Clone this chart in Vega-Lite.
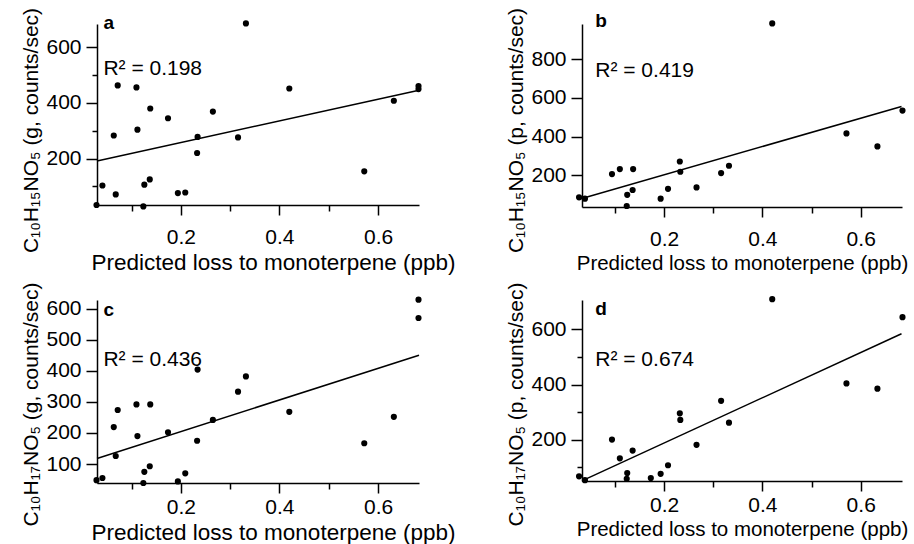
{
  "$schema": "https://vega.github.io/schema/vega-lite/v6.json",
  "padding": {"left": 20, "top": 7, "right": 0, "bottom": 0},
  "columns": 2,
  "spacing": {"row": 8, "column": 50},
  "datasets": {
    "pts": [
      {"p":"a","x":0.029,"y":33},{"p":"a","x":0.041,"y":103},{"p":"a","x":0.068,"y":71},{"p":"a","x":0.064,"y":283},
      {"p":"a","x":0.072,"y":463},{"p":"a","x":0.110,"y":456},{"p":"a","x":0.112,"y":304},{"p":"a","x":0.126,"y":106},
      {"p":"a","x":0.124,"y":28},{"p":"a","x":0.137,"y":125},{"p":"a","x":0.138,"y":380},{"p":"a","x":0.174,"y":345},
      {"p":"a","x":0.194,"y":76},{"p":"a","x":0.209,"y":78},{"p":"a","x":0.234,"y":278},{"p":"a","x":0.233,"y":220},
      {"p":"a","x":0.265,"y":369},{"p":"a","x":0.316,"y":276},{"p":"a","x":0.332,"y":686},{"p":"a","x":0.420,"y":452},
      {"p":"a","x":0.572,"y":154},{"p":"a","x":0.632,"y":408},{"p":"a","x":0.682,"y":461},{"p":"a","x":0.682,"y":450},
      {"p":"b","x":0.027,"y":87},{"p":"b","x":0.039,"y":80},{"p":"b","x":0.094,"y":207},{"p":"b","x":0.110,"y":233},
      {"p":"b","x":0.125,"y":100},{"p":"b","x":0.124,"y":42},{"p":"b","x":0.136,"y":125},{"p":"b","x":0.137,"y":233},
      {"p":"b","x":0.193,"y":80},{"p":"b","x":0.208,"y":131},{"p":"b","x":0.232,"y":272},{"p":"b","x":0.233,"y":219},
      {"p":"b","x":0.266,"y":138},{"p":"b","x":0.316,"y":212},{"p":"b","x":0.332,"y":250},{"p":"b","x":0.420,"y":985},
      {"p":"b","x":0.571,"y":417},{"p":"b","x":0.634,"y":350},{"p":"b","x":0.685,"y":535},
      {"p":"c","x":0.029,"y":48},{"p":"c","x":0.041,"y":55},{"p":"c","x":0.064,"y":219},{"p":"c","x":0.068,"y":126},
      {"p":"c","x":0.072,"y":274},{"p":"c","x":0.110,"y":292},{"p":"c","x":0.112,"y":190},{"p":"c","x":0.126,"y":75},
      {"p":"c","x":0.124,"y":39},{"p":"c","x":0.137,"y":93},{"p":"c","x":0.138,"y":292},{"p":"c","x":0.174,"y":202},
      {"p":"c","x":0.194,"y":44},{"p":"c","x":0.209,"y":70},{"p":"c","x":0.233,"y":175},{"p":"c","x":0.234,"y":404},
      {"p":"c","x":0.265,"y":242},{"p":"c","x":0.316,"y":333},{"p":"c","x":0.332,"y":382},{"p":"c","x":0.420,"y":268},
      {"p":"c","x":0.572,"y":167},{"p":"c","x":0.632,"y":252},{"p":"c","x":0.682,"y":629},{"p":"c","x":0.682,"y":570},
      {"p":"d","x":0.027,"y":68},{"p":"d","x":0.039,"y":54},{"p":"d","x":0.094,"y":201},{"p":"d","x":0.110,"y":133},
      {"p":"d","x":0.125,"y":80},{"p":"d","x":0.124,"y":59},{"p":"d","x":0.136,"y":161},{"p":"d","x":0.173,"y":62},
      {"p":"d","x":0.193,"y":77},{"p":"d","x":0.208,"y":108},{"p":"d","x":0.232,"y":296},{"p":"d","x":0.233,"y":272},
      {"p":"d","x":0.266,"y":182},{"p":"d","x":0.316,"y":341},{"p":"d","x":0.332,"y":262},{"p":"d","x":0.420,"y":709},
      {"p":"d","x":0.571,"y":404},{"p":"d","x":0.634,"y":385},{"p":"d","x":0.685,"y":644}
    ],
    "fit": [
      {"p":"a","x":0.03,"y":191},{"p":"a","x":0.683,"y":446},
      {"p":"b","x":0.031,"y":80},{"p":"b","x":0.683,"y":556},
      {"p":"c","x":0.03,"y":118},{"p":"c","x":0.683,"y":450},
      {"p":"d","x":0.036,"y":54},{"p":"d","x":0.683,"y":584}
    ],
    "letters": [
      {"p":"a","x":0.043,"y":665,"t":"a"},
      {"p":"b","x":0.060,"y":965,"t":"b"},
      {"p":"c","x":0.043,"y":577,"t":"c"},
      {"p":"d","x":0.060,"y":651,"t":"d"}
    ],
    "r2": [
      {"p":"a","x":0.043,"y":500,"t":"R² = 0.198"},
      {"p":"b","x":0.060,"y":710,"t":"R² = 0.419"},
      {"p":"c","x":0.043,"y":414,"t":"R² = 0.436"},
      {"p":"d","x":0.060,"y":468,"t":"R² = 0.674"}
    ]
  },
  "concat": [
    {
      "width": 322, "height": 181,
      "encoding": {
        "x": {"field":"x","type":"quantitative","scale":{"domain":[0.03,0.683],"nice":false,"zero":false},
              "axis":{"title":"Predicted loss to monoterpene (ppb)","titleFontSize":22.5,"titleX":176,"titlePadding":4,"values":[0.1,0.2,0.3,0.4,0.5,0.6],
                      "labelExpr":"round(datum.value*10)%2==0 ? format(datum.value,'.1f') : ''",
                      "tickSize":{"condition":{"test":"round(datum.value*10)%2==0","value":10},"value":6}}},
        "y": {"field":"y","type":"quantitative","scale":{"domain":[33,684],"nice":false,"zero":false},
              "axis":{"title":"C₁₀H₁₅NO₅ (g, counts/sec)","titleY":106,"values":[100,200,300,400,500,600],
                      "labelExpr":"datum.value%200==0 ? datum.label : ''",
                      "tickSize":{"condition":{"test":"datum.value%200==0","value":11},"value":5}}}
      },
      "layer": [
        {"data":{"name":"fit"},"transform":[{"filter":"datum.p=='a'"}],"mark":{"type":"line","color":"black","strokeWidth":1.5}},
        {"data":{"name":"pts"},"transform":[{"filter":"datum.p=='a'"}],"mark":{"type":"circle","size":38,"color":"black","opacity":1}},
        {"data":{"name":"letters"},"transform":[{"filter":"datum.p=='a'"}],"mark":{"type":"text","align":"left","baseline":"alphabetic","font":"Liberation Sans","fontWeight":"bold","fontSize":19,"color":"black"},"encoding":{"text":{"field":"t"}}},
        {"data":{"name":"r2"},"transform":[{"filter":"datum.p=='a'"}],"mark":{"type":"text","align":"left","baseline":"alphabetic","font":"Liberation Sans","fontSize":21,"color":"black"},"encoding":{"text":{"field":"t"}}}
      ]
    },
    {
      "width": 320, "height": 183,
      "encoding": {
        "x": {"field":"x","type":"quantitative","scale":{"domain":[0.033,0.684],"nice":false,"zero":false},
              "axis":{"title":"Predicted loss to monoterpene (ppb)","titleFontSize":20.5,"titlePadding":4,"values":[0.1,0.2,0.3,0.4,0.5,0.6],
                      "labelExpr":"round(datum.value*10)%2==0 ? format(datum.value,'.1f') : ''",
                      "tickSize":{"condition":{"test":"round(datum.value*10)%2==0","value":10},"value":6}}},
        "y": {"field":"y","type":"quantitative","scale":{"domain":[37,982],"nice":false,"zero":false},
              "axis":{"title":"C₁₀H₁₅NO₅ (p, counts/sec)","titleY":106,"values":[200,400,600,800],"tickSize":11}}
      },
      "layer": [
        {"data":{"name":"fit"},"transform":[{"filter":"datum.p=='b'"}],"mark":{"type":"line","color":"black","strokeWidth":1.5}},
        {"data":{"name":"pts"},"transform":[{"filter":"datum.p=='b'"}],"mark":{"type":"circle","size":38,"color":"black","opacity":1}},
        {"data":{"name":"letters"},"transform":[{"filter":"datum.p=='b'"}],"mark":{"type":"text","align":"left","baseline":"alphabetic","font":"Liberation Sans","fontWeight":"bold","fontSize":19,"color":"black"},"encoding":{"text":{"field":"t"}}},
        {"data":{"name":"r2"},"transform":[{"filter":"datum.p=='b'"}],"mark":{"type":"text","align":"left","baseline":"alphabetic","font":"Liberation Sans","fontSize":21,"color":"black"},"encoding":{"text":{"field":"t"}}}
      ]
    },
    {
      "width": 322, "height": 183,
      "encoding": {
        "x": {"field":"x","type":"quantitative","scale":{"domain":[0.03,0.683],"nice":false,"zero":false},
              "axis":{"title":"Predicted loss to monoterpene (ppb)","titleFontSize":22.5,"titleX":176,"labelPadding":3,"titlePadding":4,"values":[0.1,0.2,0.3,0.4,0.5,0.6],
                      "labelExpr":"round(datum.value*10)%2==0 ? format(datum.value,'.1f') : ''",
                      "tickSize":{"condition":{"test":"round(datum.value*10)%2==0","value":10},"value":6}}},
        "y": {"field":"y","type":"quantitative","scale":{"domain":[39,628],"nice":false,"zero":false},
              "axis":{"title":"C₁₀H₁₇NO₅ (g, counts/sec)","titleY":104,"values":[100,200,300,400,500,600],"tickSize":11}}
      },
      "layer": [
        {"data":{"name":"fit"},"transform":[{"filter":"datum.p=='c'"}],"mark":{"type":"line","color":"black","strokeWidth":1.5}},
        {"data":{"name":"pts"},"transform":[{"filter":"datum.p=='c'"}],"mark":{"type":"circle","size":38,"color":"black","opacity":1}},
        {"data":{"name":"letters"},"transform":[{"filter":"datum.p=='c'"}],"mark":{"type":"text","align":"left","baseline":"alphabetic","font":"Liberation Sans","fontWeight":"bold","fontSize":19,"color":"black"},"encoding":{"text":{"field":"t"}}},
        {"data":{"name":"r2"},"transform":[{"filter":"datum.p=='c'"}],"mark":{"type":"text","align":"left","baseline":"alphabetic","font":"Liberation Sans","fontSize":21,"color":"black"},"encoding":{"text":{"field":"t"}}}
      ]
    },
    {
      "width": 320, "height": 181,
      "encoding": {
        "x": {"field":"x","type":"quantitative","scale":{"domain":[0.033,0.684],"nice":false,"zero":false},
              "axis":{"title":"Predicted loss to monoterpene (ppb)","titleFontSize":20.5,"labelPadding":3,"titlePadding":4,"values":[0.1,0.2,0.3,0.4,0.5,0.6],
                      "labelExpr":"round(datum.value*10)%2==0 ? format(datum.value,'.1f') : ''",
                      "tickSize":{"condition":{"test":"round(datum.value*10)%2==0","value":10},"value":6}}},
        "y": {"field":"y","type":"quantitative","scale":{"domain":[51,706],"nice":false,"zero":false},
              "axis":{"title":"C₁₀H₁₇NO₅ (p, counts/sec)","titleY":104,"values":[100,200,300,400,500,600],
                      "labelExpr":"datum.value%200==0 ? datum.label : ''",
                      "tickSize":{"condition":{"test":"datum.value%200==0","value":11},"value":5}}}
      },
      "layer": [
        {"data":{"name":"fit"},"transform":[{"filter":"datum.p=='d'"}],"mark":{"type":"line","color":"black","strokeWidth":1.5}},
        {"data":{"name":"pts"},"transform":[{"filter":"datum.p=='d'"}],"mark":{"type":"circle","size":38,"color":"black","opacity":1}},
        {"data":{"name":"letters"},"transform":[{"filter":"datum.p=='d'"}],"mark":{"type":"text","align":"left","baseline":"alphabetic","font":"Liberation Sans","fontWeight":"bold","fontSize":19,"color":"black"},"encoding":{"text":{"field":"t"}}},
        {"data":{"name":"r2"},"transform":[{"filter":"datum.p=='d'"}],"mark":{"type":"text","align":"left","baseline":"alphabetic","font":"Liberation Sans","fontSize":21,"color":"black"},"encoding":{"text":{"field":"t"}}}
      ]
    }
  ],
  "config": {
    "view": {"stroke": null},
    "axis": {
      "grid": false, "domainColor": "black", "domainWidth": 1.5, "tickColor": "black", "tickWidth": 1.5,
      "labelColor": "black", "titleColor": "black", "labelFont": "Liberation Sans", "titleFont": "Liberation Sans",
      "labelFontSize": 21, "titleFontSize": 21, "titleFontWeight": "normal", "labelOverlap": false, "labelFlush": false
    },
    "axisX": {"labelPadding": 11, "titlePadding": 9},
    "axisY": {"labelPadding": 5, "titlePadding": 4}
  }
}
